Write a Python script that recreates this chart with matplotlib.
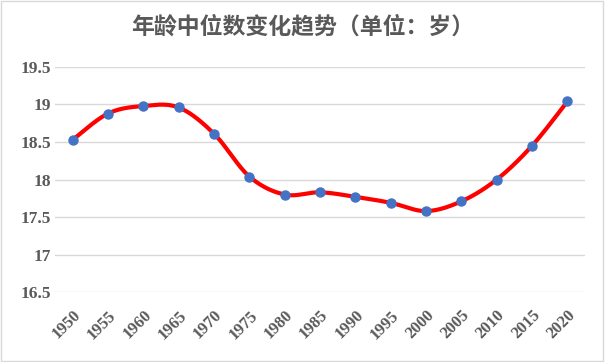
import numpy as np
import matplotlib
matplotlib.use("Agg")
import matplotlib.pyplot as plt
from matplotlib.patches import Rectangle

years = ["1950", "1955", "1960", "1965", "1970", "1975", "1980", "1985",
         "1990", "1995", "2000", "2005", "2010", "2015", "2020"]
median_age = [18.53, 18.88, 18.98, 18.96, 18.61, 18.04, 17.80, 17.83,
              17.77, 17.69, 17.58, 17.71, 18.00, 18.45, 19.04]
yticks = [16.5, 17, 17.5, 18, 18.5, 19, 19.5]
title = "年龄中位数变化趋势（单位：岁）"


def smooth(x, y, n=30):
    # excel-like smoothing: bezier segments with catmull-rom control points
    x = np.asarray(x, float)
    y = np.asarray(y, float)
    px = np.concatenate([[x[0]], x, [x[-1]]])
    py = np.concatenate([[y[0]], y, [y[-1]]])
    xs, ys = [], []
    t = np.linspace(0, 1, n)
    for i in range(1, len(px) - 2):
        p0 = np.array([px[i], py[i]])
        p3 = np.array([px[i + 1], py[i + 1]])
        p1 = p0 + (np.array([px[i + 1], py[i + 1]]) - np.array([px[i - 1], py[i - 1]])) / 6
        p2 = p3 - (np.array([px[i + 2], py[i + 2]]) - np.array([px[i], py[i]])) / 6
        b = ((1 - t) ** 3)[:, None] * p0 + (3 * (1 - t) ** 2 * t)[:, None] * p1 \
            + (3 * (1 - t) * t ** 2)[:, None] * p2 + (t ** 3)[:, None] * p3
        xs.append(b[:, 0])
        ys.append(b[:, 1])
    return np.concatenate(xs), np.concatenate(ys)


fig = plt.figure(figsize=(6.05, 3.62), dpi=100)
fig.patches.append(Rectangle((0.002, 0.003), 0.995, 0.993, transform=fig.transFigure,
                             fill=False, edgecolor="#D9D9D9", linewidth=1))
ax = fig.add_axes([0.091, 0.193, 0.876, 0.622])

xi = np.arange(len(years))
sx, sy = smooth(xi, median_age)
ax.plot(sx, sy, color="#FF0000", linewidth=3, solid_capstyle="round", zorder=2)
ax.plot(xi, median_age, "o", color="#4472C4", markersize=6.5, zorder=3)

ax.set_xlim(-0.5, len(years) - 0.5)
ax.set_ylim(16.5, 19.5)
ax.set_yticks(yticks)
ax.set_yticklabels([f"{v:g}" for v in yticks])
ax.set_xticks(xi)
ax.set_xticklabels(years, rotation=45, ha="right", rotation_mode="anchor")
ax.grid(axis="y", color="#D9D9D9", linewidth=1)
ax.set_axisbelow(True)
for s in ax.spines.values():
    s.set_visible(False)
ax.tick_params(axis="y", length=0, pad=3)
ax.tick_params(axis="x", length=0, pad=11)
for lab in ax.get_yticklabels():
    lab.set_fontsize(12.5)
for lab in ax.get_xticklabels():
    lab.set_fontsize(12)
for lab in ax.get_xticklabels() + ax.get_yticklabels():
    lab.set_fontfamily("Liberation Serif")
    lab.set_fontweight("bold")
    lab.set_color("#595959")

fig.text(0.5, 0.925, title, ha="center", va="center", fontsize=16.5,
         fontweight="bold", color="#595959",
         family=["Noto Sans CJK SC", "DejaVu Sans"])

fig.savefig("out.png", dpi=100)
